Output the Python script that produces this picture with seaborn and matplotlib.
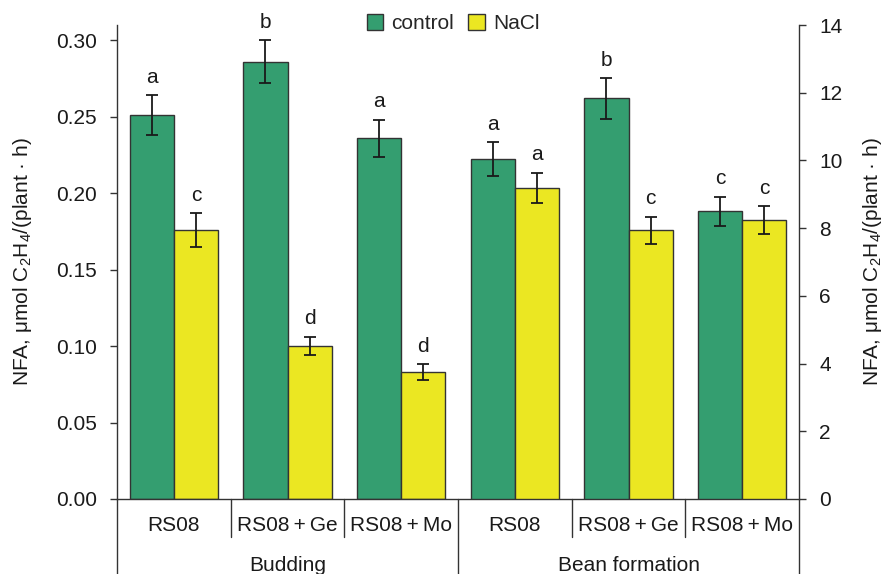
import matplotlib
matplotlib.use('Agg')
import matplotlib.pyplot as plt
import matplotlib.transforms as mtransforms
import numpy as np
import pandas as pd
import seaborn as sns

# values
stages = ["Budding", "Bean formation"]
treatments = ["RS08", "RS08\u2009+\u2009Ge", "RS08\u2009+\u2009Mo"]
conditions = ["control", "NaCl"]

budding_control = [0.251, 0.286, 0.236]
budding_control_err = [0.013, 0.014, 0.012]
budding_nacl = [0.176, 0.100, 0.083]
budding_nacl_err = [0.011, 0.006, 0.005]
budding_control_letters = ["a", "b", "a"]
budding_nacl_letters = ["c", "d", "d"]

bean_control = [10.04, 11.83, 8.50]
bean_control_err = [0.50, 0.60, 0.43]
bean_nacl = [9.19, 7.94, 8.24]
bean_nacl_err = [0.45, 0.40, 0.41]
bean_control_letters = ["a", "b", "c"]
bean_nacl_letters = ["a", "c", "c"]

green = "#349e70"
yellow = "#ebe722"
dark = "#333333"
fs = 15

ylabel = r"NFA, μmol C$_\mathregular{2}$H$_\mathregular{4}$/(plant · h)"


def make_frame(stage, control, control_err, nacl, nacl_err, c_letters, n_letters):
    rows = []
    for i, t in enumerate(treatments):
        rows.append({"slot": f"{stage}|{t}", "condition": "control",
                     "value": control[i], "err": control_err[i], "letter": c_letters[i]})
    for i, t in enumerate(treatments):
        rows.append({"slot": f"{stage}|{t}", "condition": "NaCl",
                     "value": nacl[i], "err": nacl_err[i], "letter": n_letters[i]})
    return pd.DataFrame(rows)


df_bud = make_frame("Budding", budding_control, budding_control_err,
                    budding_nacl, budding_nacl_err,
                    budding_control_letters, budding_nacl_letters)
df_bean = make_frame("Bean formation", bean_control, bean_control_err,
                     bean_nacl, bean_nacl_err,
                     bean_control_letters, bean_nacl_letters)
slots = [f"{s}|{t}" for s in stages for t in treatments]

sns.set_theme(style="white")
plt.rcParams['font.family'] = ['Liberation Sans', 'DejaVu Sans']
plt.rcParams['mathtext.fontset'] = 'custom'
plt.rcParams['mathtext.rm'] = 'Liberation Sans'

fig = plt.figure(figsize=(8.83, 5.74), dpi=100)
ax = fig.add_axes([0.1325, 0.1307, 0.7724, 0.8257])
ax2 = ax.twinx()


def draw(axis, df):
    sns.barplot(data=df, x="slot", y="value", hue="condition", order=slots,
                hue_order=conditions, palette=[green, yellow], saturation=1,
                width=0.775, edgecolor=dark, linewidth=1, errorbar=None, ax=axis)
    for cond, cont in zip(conditions, axis.containers):
        sub = df[df.condition == cond].copy()
        sub["pos"] = sub.slot.map(slots.index)
        sub = sub.sort_values("pos")
        for bar, (_, r) in zip(cont.patches, sub.iterrows()):
            x = bar.get_x() + bar.get_width() / 2
            axis.errorbar(x, r.value, yerr=r.err, fmt="none", ecolor="#1a1a1a",
                          elinewidth=1.3, capsize=4.5, capthick=1.3)
            axis.annotate(r.letter, (x, r.value + r.err), xytext=(0, 9),
                          textcoords="offset points", ha="center", va="baseline",
                          fontsize=fs, color="#1a1a1a")


draw(ax, df_bud)
draw(ax2, df_bean)

handles, labels = ax.get_legend_handles_labels()
for a in (ax, ax2):
    if a.get_legend() is not None:
        a.get_legend().remove()
    a.set_xlabel("")

ax.set_ylim(0, 0.31)
ax.set_yticks(np.arange(0, 0.31, 0.05))
ax.set_yticklabels([f"{v:.2f}" for v in np.arange(0, 0.31, 0.05)])
ax2.set_ylim(0, 14)
ax2.set_yticks(range(0, 15, 2))
ax.set_xlim(-0.5, len(slots) - 0.5)
ax.set_xticks(range(len(slots)))
ax.set_xticklabels(treatments * len(stages))
ax2.xaxis.set_visible(False)

ax.tick_params(axis="y", left=True, direction="out", length=5, width=1, pad=9.5,
               color=dark, labelsize=fs, labelcolor="#1a1a1a")
ax2.tick_params(axis="y", right=True, direction="out", length=5, width=1, pad=9.5,
                color=dark, labelsize=fs, labelcolor="#1a1a1a")
ax.tick_params(axis="x", length=0, pad=12, labelsize=fs, labelcolor="#1a1a1a")

ax.set_ylabel(ylabel, fontsize=fs, labelpad=16, color="#1a1a1a")
ax2.set_ylabel(ylabel, fontsize=fs, labelpad=13, color="#1a1a1a")

for a in (ax, ax2):
    a.spines["top"].set_visible(False)
    for s in a.spines.values():
        s.set_color(dark)
        s.set_linewidth(1)
ax.spines["right"].set_visible(False)
ax2.spines["left"].set_visible(False)
ax2.spines["bottom"].set_visible(False)

# category separators below the axis
trans = mtransforms.blended_transform_factory(ax.transData, ax.transAxes)
n = len(treatments)
for k in range(len(slots) + 1):
    edge = k - 0.5
    low = -0.16 if k % n == 0 else -0.08
    ax.plot([edge, edge], [0, low], color=dark, lw=1, transform=trans, clip_on=False)
for i, s in enumerate(stages):
    ax.text(i * n + (n - 1) / 2, -0.14, s, transform=trans, ha="center",
            va="center", fontsize=fs, color="#1a1a1a")

fig.legend(handles, labels, loc="upper center", bbox_to_anchor=(0.513, 1.008),
           ncol=2, frameon=False, fontsize=fs, handlelength=0.8,
           handleheight=0.8, handletextpad=0.4, columnspacing=0.65)

fig.savefig("out.png", dpi=100)
